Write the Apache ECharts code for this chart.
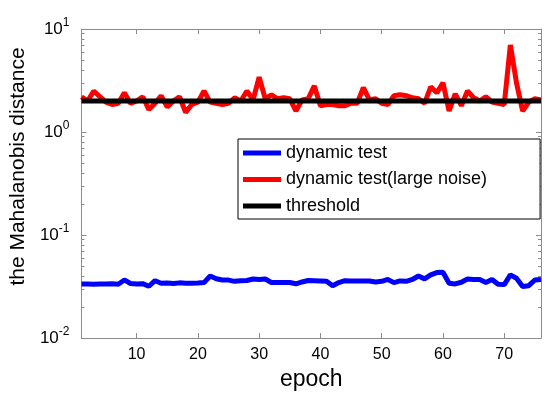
<!DOCTYPE html>
<html>
<head>
<meta charset="utf-8">
<script src="https://cdn.jsdelivr.net/npm/echarts@6/dist/echarts.min.js"></script>
<style>html,body{margin:0;padding:0;background:#fff}#c{width:550px;height:399px}</style>
</head>
<body>
<div id="c"></div>
<script>
const epochs = Array.from({length: 76}, (_, i) => i + 1);
const dynamicTest = [0.0335,0.0335,0.0333,0.0335,0.0334,0.0336,0.0333,0.0366,0.0338,0.0335,0.0337,0.0318,0.0360,0.0340,0.0342,0.0338,0.0343,0.0340,0.0341,0.0342,0.0345,0.0400,0.0376,0.0366,0.0365,0.0355,0.0360,0.0362,0.0374,0.0370,0.0374,0.0346,0.0345,0.0345,0.0346,0.0336,0.0350,0.0362,0.0360,0.0358,0.0356,0.0322,0.0345,0.0360,0.0358,0.0358,0.0358,0.0358,0.0350,0.0355,0.0370,0.0345,0.0358,0.0355,0.0370,0.0400,0.0375,0.0410,0.0432,0.0435,0.0340,0.0335,0.0348,0.0374,0.0370,0.0370,0.0346,0.0370,0.0332,0.0330,0.0410,0.0380,0.0316,0.0322,0.0366,0.0370];
const dynamicTestLargeNoise = [2.2,2.0,2.5,2.2,1.95,1.85,1.9,2.4,1.9,2.0,2.2,1.65,1.9,2.25,1.75,2.0,2.2,1.55,1.85,1.95,2.5,1.95,1.9,1.85,1.9,2.15,2.0,2.5,2.05,3.4,2.1,2.3,2.1,2.15,2.1,1.6,2.05,2.1,2.8,1.8,1.85,1.85,1.8,1.8,1.9,1.9,2.7,2.05,2.1,1.9,1.85,2.25,2.3,2.25,2.15,2.1,1.9,2.75,2.4,3.0,1.6,2.35,1.8,2.5,2.15,2.0,2.2,1.95,1.9,1.85,7.0,3.0,1.6,1.95,2.1,2.05];
const thresholdValue = 2.0;
const xTicks = [10, 20, 30, 40, 50, 60, 70];
const yMajor = [0.01, 0.1, 1, 10];
const yMinor = [0.02,0.03,0.04,0.05,0.06,0.07,0.08,0.09,0.2,0.3,0.4,0.5,0.6,0.7,0.8,0.9,2,3,4,5,6,7,8,9];
const seriesNames = ['dynamic test', 'dynamic test(large noise)', 'threshold'];

const FONT = 'Liberation Sans';
const axisGray = '#8c8c8c';
const chart = echarts.init(document.getElementById('c'), null, {renderer: 'canvas'});

function yAx(pos, ticks, len, showLabel, showLine) {
  return {
    type: 'log', logBase: 10, min: 0.01, max: 10, position: pos,
    axisLine: {show: showLine, lineStyle: {color: axisGray, width: 1}},
    axisTick: {show: true, inside: true, length: len, customValues: ticks, lineStyle: {color: axisGray}},
    axisLabel: {show: showLabel, customValues: ticks, margin: 12, fontFamily: FONT, color: '#000',
      formatter: v => '{b|10}{s|' + Math.round(Math.log10(v)) + '}',
      rich: {b: {fontSize: 17, fontFamily: FONT, color: '#000'}, s: {fontSize: 12, fontFamily: FONT, color: '#000', padding: [0,0,12,0]}}},
    splitLine: {show: false}, minorTick: {show: false}
  };
}

chart.setOption({
  animation: false,
  backgroundColor: '#fff',
  grid: {left: 80, right: 9, top: 29, bottom: 61},
  legend: {
    orient: 'vertical', left: 238, top: 139,
    data: seriesNames.map(n => ({name: n, icon: 'rect'})),
    itemWidth: 38, itemHeight: 5, itemGap: 6.5,
    padding: [4, 53, 3, 5],
    borderColor: '#000', borderWidth: 1, backgroundColor: '#fff',
    textStyle: {fontFamily: FONT, fontSize: 18, color: '#000', lineHeight: 20}
  },
  xAxis: [{
    type: 'value', min: 1, max: 76, position: 'bottom',
    name: 'epoch', nameLocation: 'middle', nameGap: 30,
    nameTextStyle: {fontFamily: FONT, fontSize: 23, color: '#000'},
    axisLine: {lineStyle: {color: axisGray}},
    axisTick: {inside: true, length: 5, customValues: xTicks, lineStyle: {color: axisGray}},
    axisLabel: {customValues: xTicks, margin: 9, fontFamily: FONT, fontSize: 16, color: '#000'},
    splitLine: {show: false}
  }, {
    type: 'value', min: 1, max: 76, position: 'top',
    axisLine: {lineStyle: {color: axisGray}},
    axisTick: {inside: true, length: 5, customValues: xTicks, lineStyle: {color: axisGray}},
    axisLabel: {show: false}, splitLine: {show: false}
  }],
  yAxis: [
    Object.assign(yAx('left', yMajor, 5, true, true), {
      name: 'the Mahalanobis distance', nameLocation: 'middle', nameGap: 52,
      nameTextStyle: {fontFamily: FONT, fontSize: 21, color: '#000', padding: [0, 0, 0, 34]}
    }),
    yAx('left', yMinor, 3, false, false),
    yAx('right', yMajor, 5, false, true),
    yAx('right', yMinor, 3, false, false)
  ],
  series: [
    {name: seriesNames[0], type: 'line', symbol: 'none', color: '#0000ff',
     lineStyle: {width: 5, color: '#0000ff'}, data: epochs.map((e, i) => [e, dynamicTest[i]])},
    {name: seriesNames[1], type: 'line', symbol: 'none', color: '#ff0000',
     lineStyle: {width: 5, color: '#ff0000'}, data: epochs.map((e, i) => [e, dynamicTestLargeNoise[i]])},
    {name: seriesNames[2], type: 'line', symbol: 'none', color: '#000000',
     lineStyle: {width: 5, color: '#000000'}, data: [[epochs[0], thresholdValue], [epochs[epochs.length - 1], thresholdValue]]}
  ]
});
</script>
</body>
</html>
